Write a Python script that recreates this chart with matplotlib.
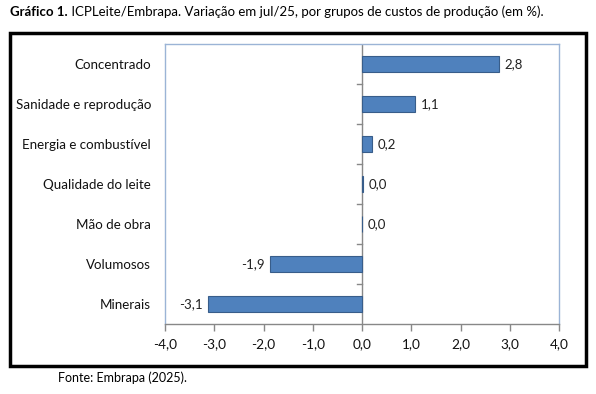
import numpy as np
import matplotlib
matplotlib.use("Agg")
import matplotlib.pyplot as plt
from matplotlib.patches import Rectangle

plt.rcParams["font.family"] = ["Lato", "DejaVu Sans"]

# dados do gráfico (variação em %)
categorias = [
    "Concentrado",
    "Sanidade e reprodução",
    "Energia e combustível",
    "Qualidade do leite",
    "Mão de obra",
    "Volumosos",
    "Minerais",
]
variacao = [2.78, 1.08, 0.21, 0.03, 0.0, -1.87, -3.13]
xticks = [-4, -3, -2, -1, 0, 1, 2, 3, 4]


def fmt(v):
    return f"{v:.1f}".replace(".", ",")


fig = plt.figure(figsize=(5.96, 3.94), dpi=100)
ax = fig.add_axes([165 / 596, 1 - 324 / 394, 394 / 596, 280 / 394])

y = np.arange(len(categorias))
bars = ax.barh(y, variacao, height=0.4, color="#4F81BD", edgecolor="#385D8A", linewidth=0.8, zorder=3)
ax.bar_label(bars, labels=[fmt(v) for v in variacao], padding=4, fontsize=9.5, color="#222222")

ax.set_ylim(len(categorias) - 0.5, -0.5)
ax.set_xlim(-4, 4)
ax.set_yticks(y)
ax.set_yticklabels(categorias, fontsize=9.6, color="#111111")
ax.tick_params(axis="y", length=0, pad=10)
ax.set_xticks(xticks)
ax.set_xticklabels([fmt(v) for v in xticks], fontsize=9.8, color="#111111")
ax.tick_params(axis="x", length=5, width=1, color="#888888", direction="out", pad=5)

for s in ["left", "right", "top"]:
    ax.spines[s].set_color("#9BB4D6")
    ax.spines[s].set_linewidth(1)
ax.spines["bottom"].set_color("#888888")
ax.spines["bottom"].set_linewidth(1)

# eixo vertical no zero com marcas entre categorias
ax.axvline(0, color="#888888", linewidth=1, zorder=2)
for b in np.arange(0.5, len(categorias) - 0.5, 1.0):
    ax.plot([-0.1, 0], [b, b], color="#888888", linewidth=1, zorder=2, clip_on=False)

# moldura preta
fig.add_artist(Rectangle((10 / 596, 1 - 366 / 394), 576 / 596, 333 / 394,
                         transform=fig.transFigure, fill=False, edgecolor="black", linewidth=2.5))

# título
t1 = fig.text(10 / 596, 1 - 12 / 394, "Gráfico 1.", fontsize=9.5, fontweight="bold", va="center", ha="left")
ax.annotate(" ICPLeite/Embrapa. Variação em jul/25, por grupos de custos de produção (em %).",
            xy=(1, 0.5), xycoords=t1, va="center", ha="left", fontsize=9.5, annotation_clip=False)

fig.text(58 / 596, 1 - 378 / 394, "Fonte: Embrapa (2025).", fontsize=9, va="center", ha="left")

fig.savefig("out.png", dpi=100)
